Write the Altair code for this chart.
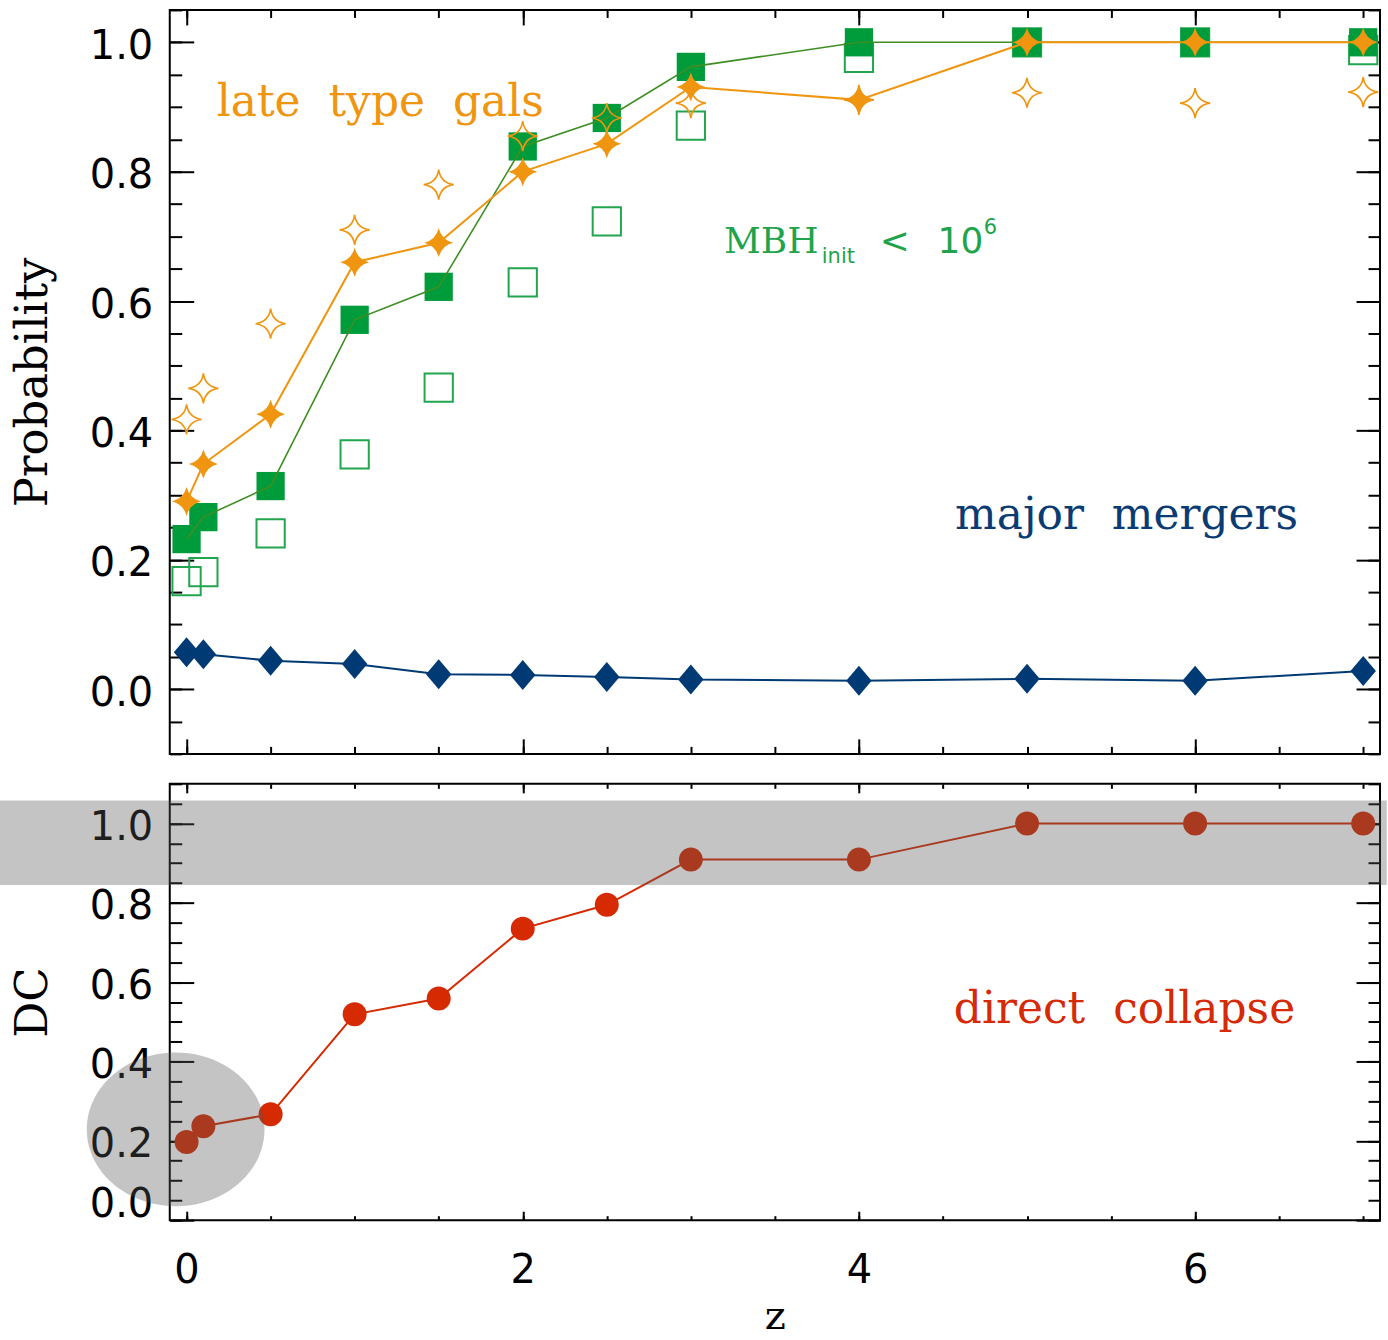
import altair as alt
import pandas as pd

# redshift grid shared by every curve
z = [0, 0.1, 0.5, 1, 1.5, 2, 2.5, 3, 4, 5, 6, 7]

# upper panel: probabilities
late_type = [0.290, 0.348, 0.425, 0.660, 0.690, 0.800, 0.843, 0.931, 0.911, 1.0, 1.0, 1.0]
late_type_open = [0.417, 0.465, 0.565, 0.710, 0.780, 0.855, 0.883, 0.906, 0.911, 0.922, 0.906, 0.923]
mbh_low = [0.232, 0.266, 0.314, 0.571, 0.622, 0.839, 0.883, 0.962, 1.0, 1.0, 1.0, 1.0]
mbh_low_open = [0.167, 0.181, 0.241, 0.363, 0.466, 0.629, 0.723, 0.871, 0.976, 1.0, 1.0, 0.988]
major_mergers = [0.057, 0.054, 0.044, 0.039, 0.023, 0.022, 0.019, 0.015, 0.013, 0.016, 0.013, 0.028]

# lower panel: direct collapse fraction
direct_collapse = [0.197, 0.237, 0.267, 0.519, 0.559, 0.735, 0.795, 0.909, 0.909, 1.0, 1.0, 1.0]

# tick positions
z_major = [0, 2, 4, 6]
z_minor = [i * 0.5 for i in range(15)]
p_major = [0.0, 0.2, 0.4, 0.6, 0.8, 1.0]
p_minor = [round(-0.1 + 0.05 * i, 2) for i in range(24)]
dc_minor = [round(0.05 * i, 2) for i in range(23)]

# grey highlight: horizontal band and ellipse (data units of the lower panel)
band_z = [-1.11, 7.14]
band_dc = [0.845, 1.058]
ellipse_z = -0.065
ellipse_dc = 0.229

# annotations of the upper panel
serif_left = pd.DataFrame({
    "z": [0.179, 3.197],
    "p": [0.886, 0.675],
    "t": ["late\u00a0\u00a0type\u00a0\u00a0gals", "MBH"],
    "c": ["#EF950F", "#1FA44C"],
    "s": [44, 36],
})
sans_left = pd.DataFrame({
    "z": [3.779, 4.124, 4.468, 4.742],
    "p": [0.659, 0.675, 0.675, 0.703],
    "t": ["init", "<", "10", "6"],
    "c": ["#1FA44C"] * 4,
    "s": [21, 36, 36, 21],
})
serif_right = pd.DataFrame({
    "z": [6.613], "p": [0.247], "t": ["major\u00a0\u00a0mergers"], "c": ["#0B3B73"], "s": [44],
})
dc_label = pd.DataFrame({
    "z": [6.595], "dc": [0.498], "t": ["direct\u00a0\u00a0collapse"], "c": ["#D62A06"], "s": [44],
})

ORANGE = "#EF950F"
GREEN_FILL = "#009B3A"
GREEN_LINE = "#3F8E24"
GREEN_OPEN = "#22A54E"
NAVY = "#003A74"
RED = "#D62A02"
SHADE = "#575757"

SERIF = "DejaVu Serif"
SANS = "DejaVu Sans"

W = 1212
H_TOP = 745
H_BOT = 437

X_SCALE = alt.Scale(domain=[-0.1, 7.1], nice=False, zero=False)
P_SCALE = alt.Scale(domain=[-0.1, 1.05], nice=False, zero=False)
D_SCALE = alt.Scale(domain=[0.0, 1.1], nice=False, zero=False)

STAR_FILLED = "M0,-1 Q0.2,-0.2 1,0 Q0.2,0.2 0,1 Q-0.2,0.2 -1,0 Q-0.2,-0.2 0,-1 Z"
STAR_OPEN = "M0,-1 Q0.12,-0.12 1,0 Q0.12,0.12 0,1 Q-0.12,0.12 -1,0 Q-0.12,-0.12 0,-1 Z"
DIAMOND = "M0,-1 L0.85,0 L0,1 L-0.85,0 Z"
ELLIPSE = ("M1,0 C1,0.478 0.552,0.865 0,0.865 C-0.552,0.865 -1,0.478 -1,0 "
           "C-1,-0.478 -0.552,-0.865 0,-0.865 C0.552,-0.865 1,-0.478 1,0 Z")


def ticks(orient, values, length):
    """Inward-pointing tick marks without labels."""
    return alt.Axis(orient=orient, values=values, tickSize=length, offset=-length,
                    domain=False, grid=False, labels=False, title=None,
                    tickColor="black", tickWidth=2)


def labelled(orient, values, length, title, fmt, title_size=45, **kw):
    """Inward ticks with numeric labels and a title."""
    return alt.Axis(orient=orient, values=values, tickSize=length, offset=-length,
                    domain=False, grid=False, labels=True, format=fmt,
                    labelFont=SANS, labelFontSize=40, labelColor="black",
                    title=title, titleFont=SERIF, titleFontSize=title_size,
                    titleFontWeight="normal", titleColor="black",
                    tickColor="black", tickWidth=2, **kw)


top_df = pd.DataFrame({
    "z": z, "late": late_type, "late_open": late_type_open,
    "mbh": mbh_low, "mbh_open": mbh_low_open, "mergers": major_mergers,
})


def xz(axis):
    return alt.X("z:Q", scale=X_SCALE, axis=axis)


def yp(field, axis):
    return alt.Y(f"{field}:Q", scale=P_SCALE, axis=axis)


base_top = alt.Chart(top_df)

top_layers = [
    base_top.mark_point(shape="square", size=800, filled=False, color=GREEN_OPEN,
                        strokeWidth=2, opacity=1).encode(
        x=xz(ticks("bottom", z_major, 15)),
        y=yp("mbh_open", labelled("left", p_major, 24, "Probability", ".1f",
                                  labelPadding=17, labelOffset=4, titlePadding=34))),
    base_top.mark_point(shape="square", size=800, filled=True, color=GREEN_FILL,
                        opacity=1).encode(
        x=xz(ticks("bottom", z_minor, 7.5)), y=yp("mbh", ticks("left", p_minor, 12))),
    base_top.mark_line(color=GREEN_LINE, strokeWidth=1.6).encode(
        x=xz(ticks("top", z_major, 15)), y=yp("mbh", ticks("right", p_major, 24))),
    base_top.mark_point(shape=STAR_OPEN, size=900, filled=False, color=ORANGE,
                        strokeWidth=1.6, opacity=1).encode(
        x=xz(ticks("top", z_minor, 7.5)), y=yp("late_open", ticks("right", p_minor, 12))),
    base_top.mark_line(color=NAVY, strokeWidth=2).encode(
        x=xz(None), y=yp("mergers", None)),
    base_top.mark_point(shape=DIAMOND, size=900, filled=True, color=NAVY, opacity=1).encode(
        x=xz(None), y=yp("mergers", None)),
    base_top.mark_line(color=ORANGE, strokeWidth=2).encode(
        x=xz(None), y=yp("late", None)),
    base_top.mark_point(shape=STAR_FILLED, size=840, filled=True, color=ORANGE,
                        opacity=1).encode(x=xz(None), y=yp("late", None)),
]


def text_layer(df, yfield, yscale, font, align):
    return alt.Chart(df).mark_text(font=font, align=align, baseline="alphabetic").encode(
        x=alt.X("z:Q", scale=X_SCALE, axis=None),
        y=alt.Y(f"{yfield}:Q", scale=yscale, axis=None),
        text="t:N",
        color=alt.Color("c:N", scale=None),
        size=alt.Size("s:Q", scale=None),
    )


top_layers += [
    text_layer(serif_left, "p", P_SCALE, SERIF, "left"),
    text_layer(sans_left, "p", P_SCALE, SANS, "left"),
    text_layer(serif_right, "p", P_SCALE, SERIF, "right"),
]

top = alt.layer(*top_layers).resolve_axis(x="independent", y="independent").properties(
    width=W, height=H_TOP)

# lower panel
bot_df = pd.DataFrame({"z": z, "dc": direct_collapse})
band_df = pd.DataFrame({"z0": [band_z[0]], "z1": [band_z[1]],
                        "d0": [band_dc[0]], "d1": [band_dc[1]]})
ell_df = pd.DataFrame({"z": [ellipse_z], "dc": [ellipse_dc]})


def yd(field, axis):
    return alt.Y(f"{field}:Q", scale=D_SCALE, axis=axis)


base_bot = alt.Chart(bot_df)
bot_layers = [
    base_bot.mark_line(color=RED, strokeWidth=2).encode(
        x=xz(labelled("bottom", z_major, 9, "z", "d", title_size=40,
                      labelPadding=30, titlePadding=6)),
        y=yd("dc", labelled("left", p_major, 24, "DC", ".1f", labelPadding=17,
                            labelOffset=4, labelFlush=True, titlePadding=34))),
    base_bot.mark_point(shape="circle", size=576, filled=True, color=RED, opacity=1).encode(
        x=xz(ticks("bottom", z_minor, 4.5)), y=yd("dc", ticks("left", dc_minor, 12))),
    alt.Chart(dc_label).mark_text(font=SERIF, align="right", baseline="alphabetic").encode(
        x=xz(ticks("top", z_major, 9)),
        y=yd("dc", ticks("right", p_major, 24)),
        text="t:N", color=alt.Color("c:N", scale=None), size=alt.Size("s:Q", scale=None)),
    alt.Chart(band_df).mark_rect(color=SHADE, opacity=0.35, clip=False).encode(
        x=alt.X("z0:Q", scale=X_SCALE, axis=ticks("top", z_minor, 4.5)),
        x2="z1:Q",
        y=alt.Y("d0:Q", scale=D_SCALE, axis=ticks("right", dc_minor, 12)),
        y2="d1:Q"),
    alt.Chart(ell_df).mark_point(shape=ELLIPSE, size=178 * 178, filled=True, color=SHADE,
                                 opacity=0.35, clip=False).encode(
        x=xz(None), y=yd("dc", None)),
]

bottom = alt.layer(*bot_layers).resolve_axis(x="independent", y="independent").properties(
    width=W, height=H_BOT)

chart = alt.vconcat(top, bottom, spacing=26).properties(
    padding={"left": -2, "top": 7, "right": 0, "bottom": 0},
    background="white",
).configure_view(stroke="black", strokeWidth=2)

chart.save("out.html", embed_options={"renderer": "svg", "actions": False})
